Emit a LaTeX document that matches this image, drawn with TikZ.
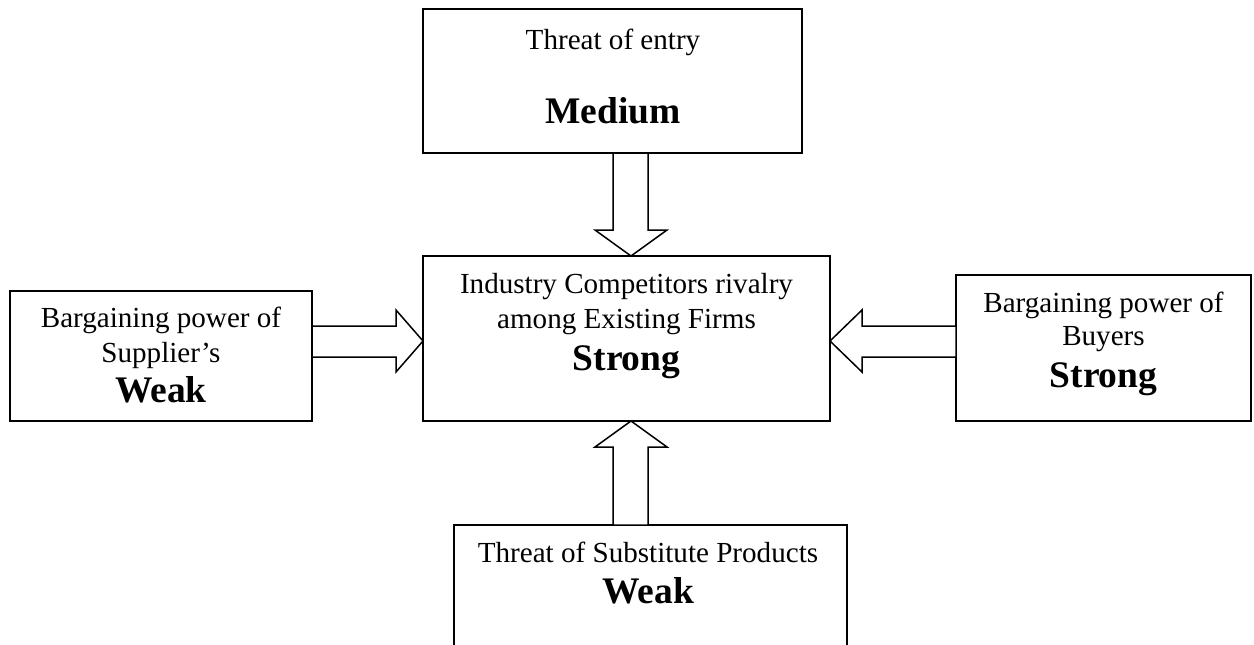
\documentclass[tikz,border=0pt]{standalone}
\usepackage{fontspec}
\setmainfont{Liberation Serif}
\usetikzlibrary{calc}
\begin{document}
\begin{tikzpicture}[x=1pt,y=1pt,
  box/.style={draw=black, line width=2pt, rectangle, inner sep=0pt, outer sep=0pt, fill=white},
  arr/.style={draw=black, line width=1.5pt, line join=miter, fill=white},
  reg/.style={anchor=base, inner sep=0pt, font=\fontsize{29.1}{35}\selectfont},
  bld/.style={anchor=base, inner sep=0pt, font=\fontsize{37.5}{44}\selectfont\bfseries}]
\useasboundingbox (0,0) rectangle (1254,-645);
\fill[white] (0,0) rectangle (1254,-645);
\clip (0,0) rectangle (1254,-645);
% boxes
\node[box, minimum width=379pt, minimum height=144pt] (tbox) at (612.5,-81) {};
\node[box, minimum width=407pt, minimum height=165pt] (cbox) at (626.5,-338.5) {};
\node[box, minimum width=302pt, minimum height=130pt] (lbox) at (161,-356) {};
\node[box, minimum width=295pt, minimum height=146pt] (rbox) at (1103.5,-348) {};
\node[box, minimum width=393pt, minimum height=145pt] (bbox) at (650.5,-597.5) {};
% tips
\coordinate (T1) at ($(cbox.north)+(4.5,0)$);
\coordinate (T2) at ($(cbox.south)+(4.5,0)$);
\coordinate (T3) at ($(cbox.west)+(0,-2.5)$);
\coordinate (T4) at ($(cbox.east)+(0,-2.5)$);
% block arrows
\draw[arr] (T1) -- ++(-36,26) -- ++(18,0) -- ++(0,77) -- ++(35,0) -- ++(0,-77) -- ++(19,0) -- cycle;
\draw[arr] (T2) -- ++(-36,-26) -- ++(18,0) -- ++(0,-78) -- ++(35,0) -- ++(0,78) -- ++(19,0) -- cycle;
\draw[arr] (T3) -- ++(-27,31) -- ++(0,-16) -- ++(-84,0) -- ++(0,-31) -- ++(84,0) -- ++(0,-15) -- cycle;
\draw[arr] (T4) -- ++(32,31) -- ++(0,-16) -- ++(94,0) -- ++(0,-31) -- ++(-94,0) -- ++(0,-15) -- cycle;
% texts
\node[reg] (t1) at (613,-49) {Threat of entry};
\node[bld] (t2) at (613,-123) {Medium};
\node[reg] (c1) at (626.5,-293) {Industry Competitors rivalry};
\node[reg] (c2) at (626.5,-328) {among Existing Firms};
\node[bld] (c3) at (626.5,-370) {Strong};
\node[reg] (l1) at (161,-327) {Bargaining power of};
\node[reg] (l2) at (161,-362) {Supplier’s};
\node[bld] (l3) at (161,-402) {Weak};
\node[reg] (r1) at (1103.5,-312) {Bargaining power of};
\node[reg] (r2) at (1103.5,-345) {Buyers};
\node[bld] (r3) at (1103.5,-387) {Strong};
\node[reg] (b1) at (648,-562) {Threat of Substitute Products};
\node[bld] (b2) at (648,-603) {Weak};
\end{tikzpicture}
\end{document}
